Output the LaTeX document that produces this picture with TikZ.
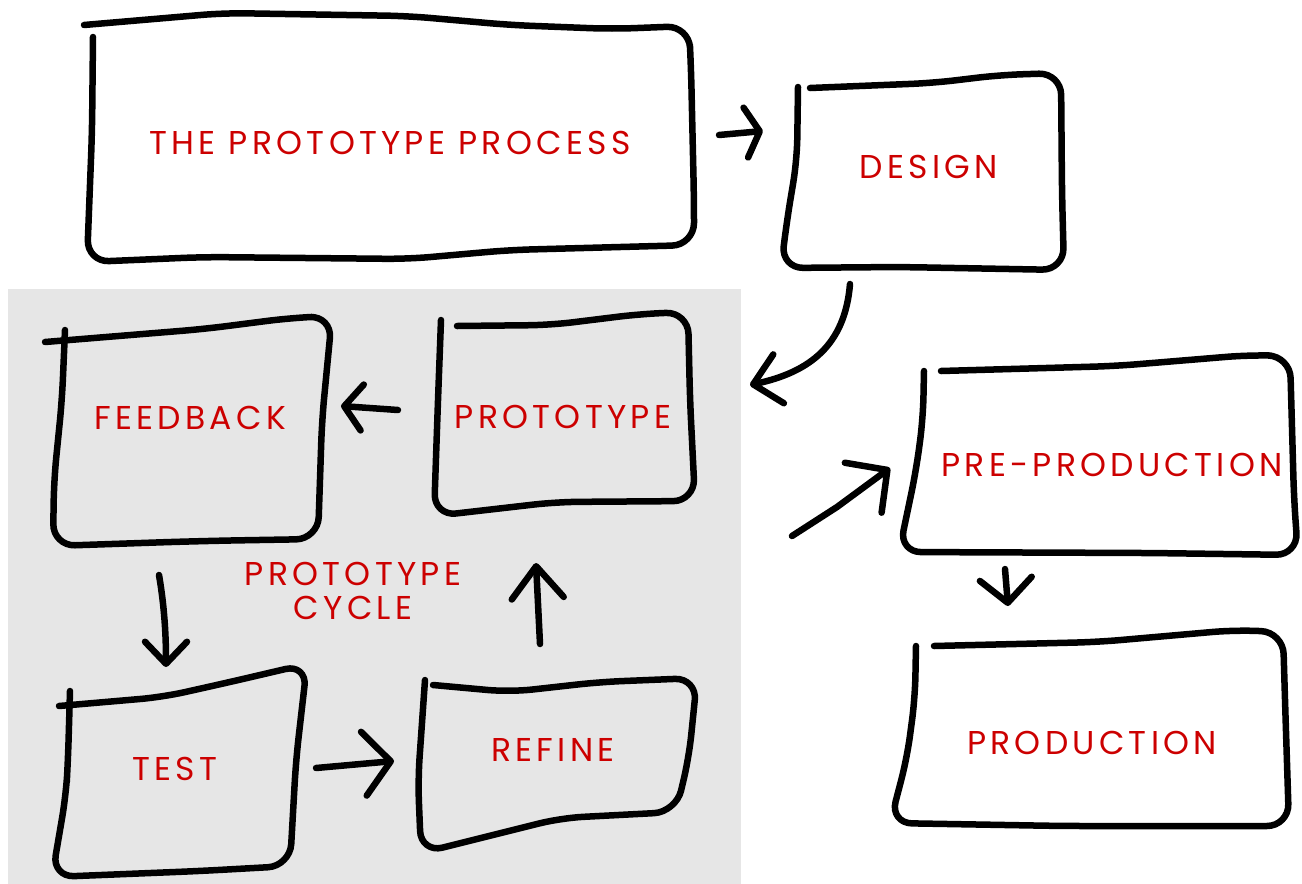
\documentclass[tikz,border=0pt]{standalone}
\usepackage{fontspec}
\usetikzlibrary{arrows.meta}
\newfontfamily\sketchfont{Poppins}[LetterSpace=13]
\definecolor{sketchred}{RGB}{204,0,0}
\definecolor{cyclegray}{RGB}{230,230,230}
\tikzset{
  outline/.style={line width=6.5pt, line cap=round, line join=round},
  hand/.style={outline, rounded corners=22pt},
  stepname/.style={text=sketchred, font=\sketchfont\fontsize{33}{34}\selectfont, align=center},
  arr/.style 2 args={outline, -{Straight Barb[round, length=#1, width=#2]}}
}
\begin{document}
\begin{tikzpicture}[x=1pt, y=-1pt]
\useasboundingbox (0,0) rectangle (1302,884);
\fill[cyclegray] (8,289) rectangle (741,884);

% boxes
\draw[hand] (93,37) -- (92,133) -- (87,262) -- (204,257) -- (408,259) -- (510,250) -- (694,245)
  -- (694,200) -- (691,67) -- (689,26) -- (612,29) -- (510,25) -- (408,16) -- (224,13) -- (84,25);
\draw[hand] (798,87) -- (797,160) -- (787,220) -- (781,268) -- (900,267) -- (1064,270)
  -- (1062,193) -- (1061,73) -- (1000,75) -- (933,83) -- (810,88);
\draw[hand] (924,371) -- (923,419) -- (916,471) -- (899,552) -- (1150,553) -- (1298,555)
  -- (1294,499) -- (1290,356) -- (1249,355) -- (1116,366) -- (941,371);
\draw[hand] (916,646) -- (915,698) -- (907,758) -- (890,823) -- (1063,826) -- (1289,826)
  -- (1285,700) -- (1283,632) -- (1235,630) -- (1098,642) -- (934,646);
\draw[hand] (65,330) -- (62,400) -- (54,480) -- (53,546) [rounded corners=40pt] -- (200,541)
  [rounded corners=22pt] -- (318,539) -- (322,420) -- (332,316) -- (290,318) -- (204,329) -- (45,342);
\draw[hand] (441,320) -- (438,400) -- (434,516) -- (556,502) -- (695,501)
  -- (690,400) -- (688,312) -- (640,314) -- (551,325) -- (457,326);
\draw[hand] (70,691) -- (68,760) -- (66,795) -- (52,877) -- (200,871) -- (290,866)
  -- (296,760) -- (307,664) -- (230,682) -- (163,697) -- (59,706);
\draw[hand] (425,680) -- (418,780) -- (421,853) -- (561,818) -- (676,812)
  -- (689,757) -- (697,678) -- (600,682) -- (510,692) -- (433,685);

% labels
\node[stepname] (process) at (390,143) {THE PROTOTYPE PROCESS};
\node[stepname] (design) at (929,167) {DESIGN};
\node[stepname] (preprod) at (1112,465) {PRE-PRODUCTION};
\node[stepname] (prod) at (1092,743) {PRODUCTION};
\node[stepname] (feedback) at (190,418) {FEEDBACK};
\node[stepname] (prototype) at (563,417) {PROTOTYPE};
\node[stepname] (cycle) at (353,591) {PROTOTYPE\\CYCLE};
\node[stepname] (test) at (175,769) {TEST};
\node[stepname] (refine) at (553,750) {REFINE};

% arrow ends
\coordinate (process-out) at (719,135);
\coordinate (design-in) at (763,131);
\coordinate (design-out) at (850,284);
\coordinate (cycle-in) at (750,385);
\coordinate (cycle-out) at (792,536);
\coordinate (preprod-in) at (890,468);
\coordinate (preprod-out) at (1005,569);
\coordinate (prod-in) at (1008,606);
\coordinate (prototype-out) at (398,410);
\coordinate (feedback-in) at (341,406);
\coordinate (feedback-out) at (159,575);
\coordinate (test-in) at (166,667);
\coordinate (test-out) at (316,768);
\coordinate (refine-in) at (394,761);
\coordinate (refine-out) at (540,644);
\coordinate (prototype-in) at (536,563);

\draw[arr={14pt}{50pt}] (process-out) -- (design-in);
\draw[arr={26pt}{50pt}] (design-out) .. controls (845,345) and (810,372) .. (cycle-in);
\draw[arr={30pt}{62pt}] (cycle-out) -- (837,507) -- (preprod-in);
\draw[arr={24pt}{52pt}] (preprod-out) -- (prod-in);
\draw[arr={18pt}{46pt}] (prototype-out) -- (feedback-in);
\draw[arr={22pt}{42pt}] (feedback-out) .. controls (165,610) and (166,640) .. (test-in);
\draw[arr={27pt}{64pt}] (test-out) -- (refine-in);
\draw[arr={32pt}{52pt}] (refine-out) -- (prototype-in);
\end{tikzpicture}
\end{document}
